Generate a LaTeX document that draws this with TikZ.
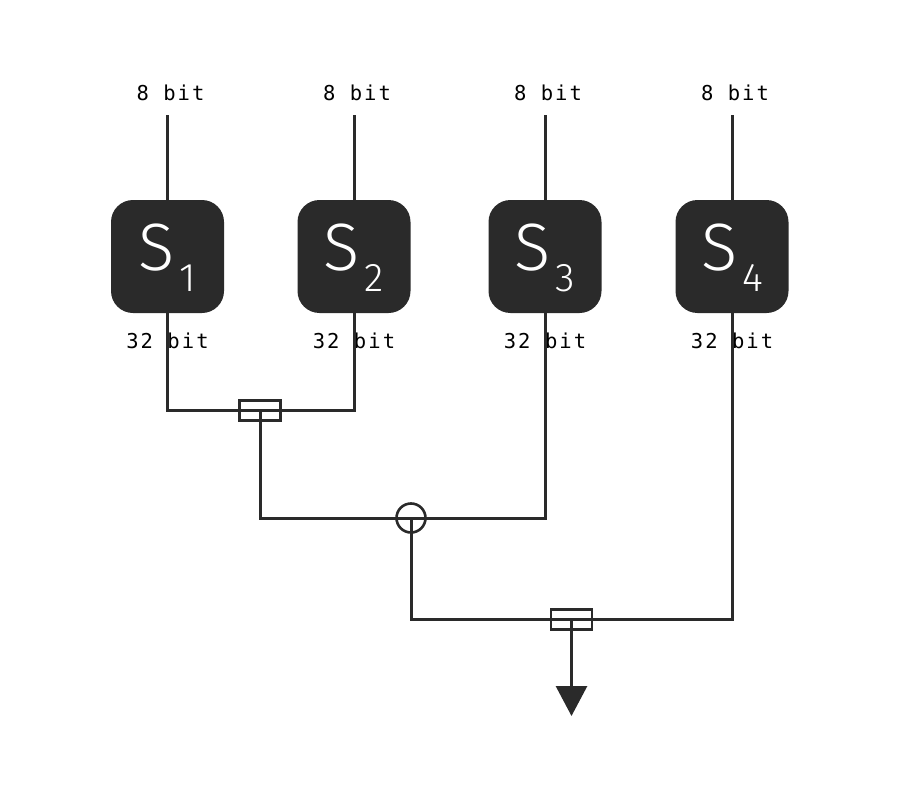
\documentclass[tikz,border=0pt]{standalone}
\usepackage{fontspec}
\setmainfont{Fira Sans Light}
\newfontfamily\monof[LetterSpace=10]{DejaVu Sans Mono}
\usetikzlibrary{arrows.meta}
\definecolor{ink}{HTML}{2A2A2A}
\begin{document}
\begin{tikzpicture}[x=1pt,y=-1pt,
  sbox/.style={fill=ink, rounded corners=22pt, minimum width=113pt, minimum height=113pt, inner sep=0pt},
  stext/.style={text=white, anchor=base, inner sep=0pt, font=\fontsize{67}{67}\selectfont},
  bitlbl/.style={text=black, anchor=base, inner sep=0pt, font=\monof\fontsize{20.5}{20.5}\selectfont},
  wire/.style={draw=ink, line width=3pt},
  joinbox/.style={draw=ink, line width=2.6pt, minimum width=41pt, minimum height=20pt, inner sep=0pt},
  joincirc/.style={draw=ink, line width=2.6pt, circle, minimum size=29pt, inner sep=0pt}]
\useasboundingbox (0,0) rectangle (900,800);
% S-boxes
\foreach \i/\x in {1/167.5, 2/354, 3/545, 4/732} {
  \node[sbox] (s\i) at (\x,256.5) {};
  \node[stext] (st\i) at (\x,270) {S\kern5pt\raisebox{-21pt}{\fontsize{40}{40}\selectfont \i}};
  \coordinate (t\i) at (\x,115);
  \node[bitlbl] (lt\i) at (\x+3,100) {8 bit};
  \node[bitlbl] (lb\i) at (\x,348.5) {32 bit};
}
% join nodes
\node[joinbox] (m1) at (260,410.5) {};
\node[joincirc] (c1) at (411,518) {};
\node[joinbox] (m2) at (571.5,619.5) {};
\coordinate (out) at (571.5,716);
% wires
\foreach \i in {1,2,3,4} { \draw[wire] (t\i) -- (s\i.north); }
\draw[wire] (s1.south) |- (m1.center) -| (s2.south);
\draw[wire] (m1.center) |- (c1.center) -| (s3.south);
\draw[wire] (c1.center) |- (m2.center) -| (s4.south);
\draw[wire, -{Triangle[length=30pt,width=31pt]}, shorten >=0pt] (m2.center) -- (out);
\end{tikzpicture}
\end{document}
